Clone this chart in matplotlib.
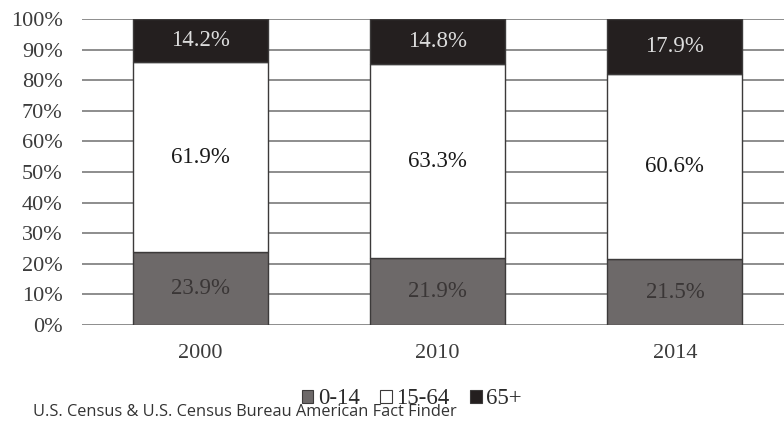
import matplotlib
matplotlib.use("Agg")
import matplotlib.pyplot as plt
from matplotlib.patches import Patch
import numpy as np

years = ["2000", "2010", "2014"]
age_groups = ["0-14", "15-64", "65+"]
share_0_14 = [23.9, 21.9, 21.5]
share_15_64 = [61.9, 63.3, 60.6]
share_65_plus = [14.2, 14.8, 17.9]
y_ticks = [0, 10, 20, 30, 40, 50, 60, 70, 80, 90, 100]

fill_colors = ["#6d6969", "#ffffff", "#241f1f"]
text_colors = ["#3a3636", "#1a1a1a", "#dcdcdc"]
edge = "#3c3a3a"
serif = ["Liberation Serif", "DejaVu Serif"]

fig = plt.figure(figsize=(7.84, 4.21), dpi=100)
ax = fig.add_axes([82 / 784, 96 / 421, 1 - 82 / 784, 306 / 421])

x = np.arange(len(years))
width = 0.57
bottom = np.zeros(len(years))
for vals, fc, tc in zip([share_0_14, share_15_64, share_65_plus], fill_colors, text_colors):
    vals = np.array(vals)
    ax.bar(x, vals, width, bottom=bottom, color=fc, edgecolor=edge, linewidth=1.0, zorder=3)
    for xi, b, v in zip(x, bottom, vals):
        ax.text(xi, b + v / 2, f"{v:.1f}%", ha="center", va="center",
                color=tc, fontsize=16.5, family=serif, zorder=4)
    bottom += vals

ax.set_xlim(-0.5, 2.46)
ax.set_ylim(0, 100)
ax.set_yticks(y_ticks)
ax.set_yticklabels([f"{t}%" for t in y_ticks])
ax.set_xticks(x)
ax.set_xticklabels(years)
ax.yaxis.grid(True, color="#7a7a7a", linewidth=1.2, zorder=0)
ax.set_axisbelow(True)
for s in ax.spines.values():
    s.set_visible(False)
ax.tick_params(axis="y", length=0, pad=14, labelsize=16, labelcolor="#3c3c3c")
ax.tick_params(axis="x", length=0, pad=14, labelsize=16, labelcolor="#3c3c3c")
for lab in ax.get_xticklabels() + ax.get_yticklabels():
    lab.set_family(serif)

handles = [Patch(facecolor=c, edgecolor=edge, linewidth=0.8) for c in fill_colors]
fig.legend(handles, age_groups, loc="center", bbox_to_anchor=(412 / 784, 1 - 399 / 421),
           ncol=3, frameon=False, prop={"family": serif, "size": 16.5},
           handlelength=0.5, handleheight=0.5, handletextpad=0.2, columnspacing=0.9,
           labelcolor="#2a2a2a", borderpad=0, borderaxespad=0)

fig.text(33 / 784, 1 - 412 / 421, "U.S. Census & U.S. Census Bureau American Fact Finder",
         fontsize=11.8, family="Open Sans", color="#333333", va="center", ha="left")

fig.savefig("out.png", dpi=100)
